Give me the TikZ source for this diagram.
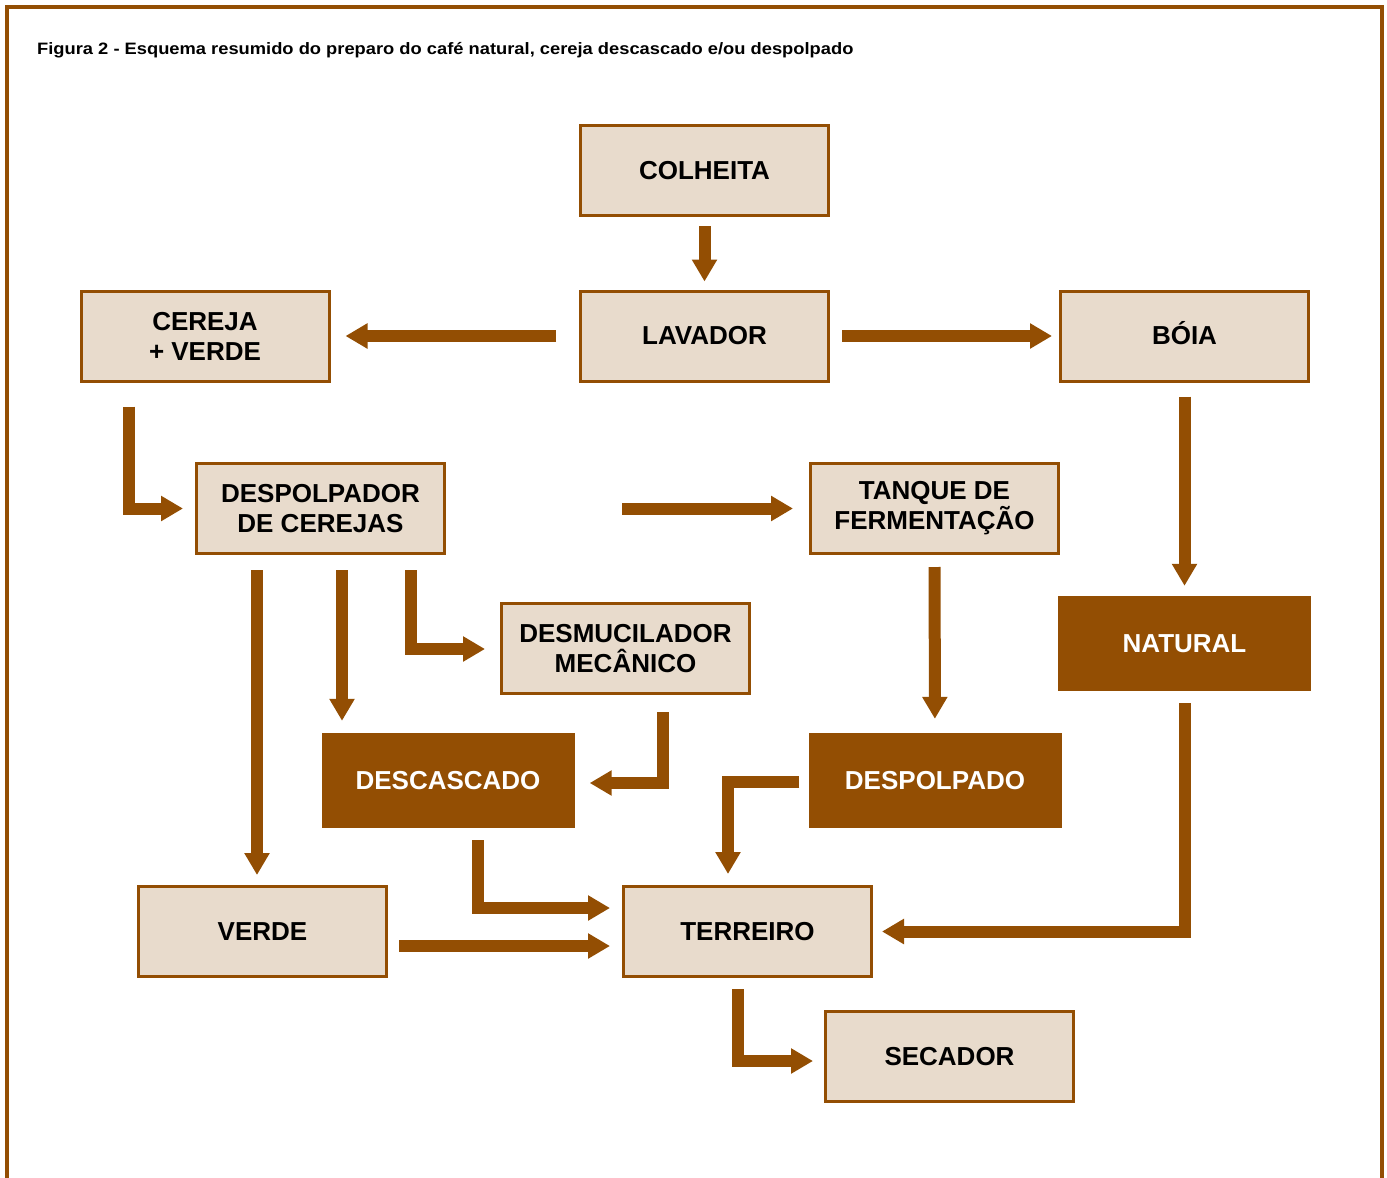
\documentclass[tikz,border=0pt]{standalone}
\usepackage{fontspec}
\setmainfont{Liberation Sans}
\usepackage{tikz}
\usetikzlibrary{arrows.meta,calc}
\definecolor{cafe}{HTML}{934E03}
\definecolor{softcafe}{HTML}{E8DBCC}
\tikzset{
  etapa/.style={rectangle,draw=cafe,line width=3pt,fill=softcafe,align=center,minimum width=248pt,minimum height=90pt,inner sep=0pt,font=\fontsize{26}{30}\selectfont\bfseries},
  tipo/.style={rectangle,fill=cafe,text=white,align=center,minimum width=253pt,minimum height=95pt,inner sep=0pt,font=\fontsize{26}{30}\selectfont\bfseries},
  flow/.style={-{Triangle[width=24pt,length=22pt]},line width=12pt,draw=cafe},
}
\begin{document}
\begin{tikzpicture}[x=1pt,y=-1pt]
  \useasboundingbox (0,0) rectangle (1387,1178);
  % moldura aberta embaixo
  \draw[cafe,line width=3.5pt] (7,1178) -- (7,7) -- (1382,7) -- (1382,1178);
  \node[anchor=base west,inner sep=0pt,font=\fontsize{16.5}{19}\selectfont\bfseries] (titulo) at (37,54)
    {\scalebox{1.11}[1]{Figura 2 - Esquema resumido do preparo do café natural, cereja descascado e/ou despolpado}};
  % etapas
  \node[etapa] (colheita) at (704.5,170.5) {COLHEITA};
  \node[etapa] (lavador) at (704.5,336) {LAVADOR};
  \node[etapa] (cereja) at (205,336) {CEREJA\\+ VERDE};
  \node[etapa] (boia) at (1184.5,336) {B\smash{Ó}IA};
  \node[etapa] (despolpador) at (320.5,508.5) {DESPOLPADOR\\DE CEREJAS};
  \node[etapa] (tanque) at (934.5,508.5) {TANQUE DE\\FERMENTAÇÃO};
  \node[etapa] (desmucilador) at (625.5,648.5) {DESMUCILADOR\\MECÂNICO};
  \node[etapa] (verde) at (262.5,931.5) {VERDE};
  \node[etapa] (terreiro) at (747.5,931.5) {TERREIRO};
  \node[etapa] (secador) at (949.5,1056.5) {SECADOR};
  % tipos de cafe
  \node[tipo] (natural) at (1184.5,643.5) {NATURAL};
  \node[tipo] (descascado) at (448,780.5) {DESCASCADO};
  \node[tipo] (despolpado) at (935,780.5) {DESPOLPADO};
  % ligacoes retas
  \draw[flow,shorten <=9pt,shorten >=8pt] (colheita) -- (lavador);
  \draw[flow,shorten <=23pt,shorten >=15pt] (lavador) -- (cereja);
  \draw[flow,shorten <=12pt,shorten >=7pt] (lavador) -- (boia);
  \draw[flow,shorten <=176pt,shorten >=16pt] (despolpador) -- (tanque);
  \draw[flow,shorten <=14pt,shorten >=10pt] (boia) -- (natural);
  \draw[flow,shorten <=12pt,shorten >=14pt] (tanque) -- (despolpado);
  \draw[flow,shorten <=11pt,shorten >=12pt] ($(verde.east)+(0,14.5)$) -- ($(terreiro.west)+(0,14.5)$);
  \draw[flow] ($(despolpador.south)+(-63.5,15)$) -- ($(verde.north)+(-5.5,-10)$);
  \draw[flow] ($(despolpador.south)+(21.5,15)$) -- ($(descascado.north)+(-106,-12)$);
  % ligacoes em cotovelo
  \draw[flow] ($(cereja.south)+(-76,24)$) |- ($(despolpador.west)+(-12,0)$);
  \draw[flow] ($(despolpador.south)+(90.5,15)$) |- ($(desmucilador.west)+(-15,0.5)$);
  \draw[flow] ($(desmucilador.south)+(37.5,17)$) |- ($(descascado.east)+(15,2.5)$);
  \draw[flow] ($(despolpado.west)+(-9,1.5)$) -| ($(terreiro.north)+(-19.5,-11)$);
  \draw[flow] ($(descascado.south)+(30,12)$) |- ($(terreiro.west)+(-12,-23.5)$);
  \draw[flow] ($(natural.south)+(0,12)$) |- ($(terreiro.east)+(9,0)$);
  \draw[flow] ($(terreiro.south)+(-9.5,11)$) |- ($(secador.west)+(-11,4.5)$);
\end{tikzpicture}
\end{document}
